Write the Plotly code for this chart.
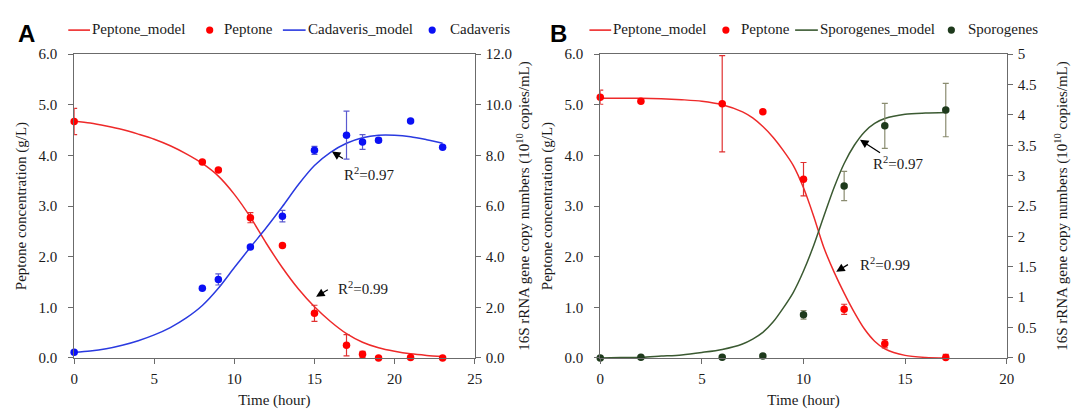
import plotly.graph_objects as go

# ---------------- Panel A: peptone vs C. cadaveris ----------------
hours_A = list(range(0, 24))
pep_model_A = [4.68, 4.64, 4.58, 4.51, 4.42, 4.32, 4.19, 4.03, 3.84, 3.59,
               3.23, 2.78, 2.26, 1.78, 1.36, 1.01, 0.72, 0.48, 0.31, 0.20,
               0.13, 0.08, 0.05, 0.03]
cad_model_A = [0.22, 0.27, 0.36, 0.50, 0.68, 0.91, 1.20, 1.58, 2.07, 2.75,
               3.57, 4.37, 5.15, 5.98, 6.85, 7.60, 8.12, 8.48, 8.70, 8.80,
               8.80, 8.74, 8.62, 8.48]

t_A = [0, 8, 9, 11, 13, 15, 17, 18, 19, 21, 23]
pep_A = [4.67, 3.87, 3.71, 2.77, 2.22, 0.88, 0.25, 0.07, 0.0, 0.01, 0.0]
pep_A_sd = [0.26, None, None, 0.10, None, 0.16, 0.21, 0.06, None, None, None]
cad_A = [0.22, 2.75, 3.10, 4.38, 5.60, 8.20, 8.80, 8.53, 8.60, 9.36, 8.32]
cad_A_sd = [None, None, 0.22, None, 0.23, 0.16, 0.95, 0.29, 0.08, None, None]

# ---------------- Panel B: peptone vs C. sporogenes ----------------
hours_B = [0, 1, 2, 3, 4, 5, 6, 7, 7.5, 8, 8.5, 9, 9.5, 10, 10.5, 11, 11.5,
           12, 12.5, 13, 13.5, 14, 15, 16, 17]
pep_model_B = [5.13, 5.13, 5.13, 5.12, 5.10, 5.07, 5.00, 4.86, 4.74, 4.57,
               4.36, 4.10, 3.80, 3.36, 2.80, 2.18, 1.70, 1.28, 0.90, 0.57,
               0.33, 0.18, 0.05, 0.01, 0.00]
spo_model_B = [0.00, 0.005, 0.01, 0.03, 0.05, 0.09, 0.14, 0.23, 0.31, 0.42,
               0.59, 0.82, 1.08, 1.43, 1.85, 2.33, 2.80, 3.20, 3.50, 3.72,
               3.86, 3.94, 4.01, 4.03, 4.04]

t_B = [0, 2, 6, 8, 10, 12, 14, 17]
pep_B = [5.15, 5.07, 5.02, 4.86, 3.53, 0.96, 0.28, 0.01]
pep_B_sd = [0.14, None, 0.95, None, 0.33, 0.10, 0.08, 0.06]
spo_B = [0.0, 0.01, 0.01, 0.03, 0.71, 2.83, 3.82, 4.08]
spo_B_sd = [None, None, None, None, 0.07, 0.24, 0.37, 0.44]

SERIF = "Liberation Serif"
TXT = "#1a1a1a"
AXC = "#6b6b6b"
W, H = 1080, 413

RED_L, RED_P, RED_E = "#ee2a2a", "#ff0000", "#e03030"
BLU_L, BLU_P, BLU_E = "#2a3ae0", "#0a10f5", "#5a5ad0"
GRN_L, GRN_P, GRN_E = "#3b5a32", "#1e3a1c", "#8a8c70"

fig = go.Figure()


def model(x, y, name, color, xa, ya):
    return go.Scatter(x=x, y=y, name=name, mode="lines", showlegend=False,
                      line=dict(color=color, width=1.5, shape="spline", smoothing=0.8),
                      xaxis=xa, yaxis=ya, cliponaxis=False)


def points(x, y, sd, name, color, ecolor, xa, ya):
    return go.Scatter(x=x, y=y, name=name, mode="markers", showlegend=False,
                      marker=dict(color=color, size=7.5),
                      error_y=dict(type="data", array=sd, visible=True,
                                   color=ecolor, thickness=1.2, width=3),
                      xaxis=xa, yaxis=ya, cliponaxis=False)


fig.add_trace(model(hours_A, pep_model_A, "Peptone_model", RED_L, "x", "y"))
fig.add_trace(points(t_A, pep_A, pep_A_sd, "Peptone", RED_P, RED_E, "x", "y"))
fig.add_trace(model(hours_A, cad_model_A, "Cadaveris_model", BLU_L, "x", "y2"))
fig.add_trace(points(t_A, cad_A, cad_A_sd, "Cadaveris", BLU_P, BLU_E, "x", "y2"))

fig.add_trace(model(hours_B, pep_model_B, "Peptone_model", RED_L, "x2", "y3"))
fig.add_trace(points(t_B, pep_B, pep_B_sd, "Peptone", RED_P, RED_E, "x2", "y3"))
fig.add_trace(model(hours_B, spo_model_B, "Sporogenes_model", GRN_L, "x2", "y4"))
fig.add_trace(points(t_B, spo_B, spo_B_sd, "Sporogenes", GRN_P, GRN_E, "x2", "y4"))

Y_DOM = [0.1186, 0.8838]
tickfont = dict(family=SERIF, size=15, color=TXT)
titlefont = dict(family=SERIF, size=15, color=TXT)
common = dict(showline=True, linecolor=AXC, linewidth=1, ticks="outside",
              ticklen=5, tickcolor=AXC, tickfont=tickfont, showgrid=False,
              zeroline=False, fixedrange=True)

right_title = "16S rRNA gene copy numbers (10<sup>10</sup> copies/mL)"

fig.update_layout(
    width=W, height=H,
    margin=dict(l=0, r=0, t=0, b=0),
    paper_bgcolor="white", plot_bgcolor="white",
    font=dict(family=SERIF, size=15, color=TXT),
    showlegend=False,
    xaxis=dict(domain=[0.0657, 0.4407], range=[0, 25], dtick=5, anchor="y",
               mirror=True, ticklabelstandoff=2,
               title=dict(text="Time (hour)", font=titlefont, standoff=8),
               **common),
    yaxis=dict(domain=Y_DOM, range=[0, 6], dtick=1, tickformat=".1f", anchor="x",
               ticklabelstandoff=8,
               title=dict(text="Peptone concentration (g/L)", font=titlefont, standoff=8),
               **common),
    yaxis2=dict(range=[0, 12], dtick=2, tickformat=".1f", overlaying="y",
                side="right", anchor="x", ticklabelstandoff=2,
                title=dict(text=right_title, font=titlefont, standoff=7),
                **common),
    xaxis2=dict(domain=[0.5583, 0.9389], range=[0, 20], dtick=5, anchor="y3",
                mirror=True, ticklabelstandoff=2,
                title=dict(text="Time (hour)", font=titlefont, standoff=8),
                **common),
    yaxis3=dict(domain=Y_DOM, range=[0, 6], dtick=1, tickformat=".1f", anchor="x2",
                ticklabelstandoff=8,
                title=dict(text="Peptone concentration (g/L)", font=titlefont, standoff=8),
                **common),
    yaxis4=dict(range=[0, 5], dtick=0.5, overlaying="y3", side="right", anchor="x2",
                ticklabelstandoff=2,
                title=dict(text=right_title, font=titlefont, standoff=21),
                **common),
)

annotations = [
    dict(text="<b>A</b>", x=0.0111, y=0.935, xref="paper", yref="paper",
         xanchor="left", yanchor="middle", showarrow=False,
         font=dict(family="Liberation Sans", size=24, color="black")),
    dict(text="<b>B</b>", x=0.509, y=0.935, xref="paper", yref="paper",
         xanchor="left", yanchor="middle", showarrow=False,
         font=dict(family="Liberation Sans", size=24, color="black")),
]
shapes = []

# Legend rows drawn above each panel: (kind, colour, start px, text px, label)
LEG_Y = 1 - 23 / H
LEG_TXT_Y = 1 - 21.8 / H
legend_rows = [
    ("line", RED_L, 65, 89, "Peptone_model"),
    ("dot", RED_P, 208, 222, "Peptone"),
    ("line", BLU_L, 282, 307, "Cadaveris_model"),
    ("dot", BLU_P, 433, 451, "Cadaveris"),
    ("line", RED_L, 592, 616, "Peptone_model"),
    ("dot", RED_P, 730, 745, "Peptone"),
    ("line", GRN_L, 800, 825, "Sporogenes_model"),
    ("dot", GRN_P, 958, 975, "Sporogenes"),
]
for kind, color, sx, tx, label in legend_rows:
    if kind == "line":
        shapes.append(dict(type="line", xref="paper", yref="paper",
                           x0=sx / W, x1=(tx - 2) / W, y0=LEG_Y, y1=LEG_Y,
                           line=dict(color=color, width=1.6)))
    else:
        shapes.append(dict(type="circle", xref="paper", yref="paper",
                           xsizemode="pixel", ysizemode="pixel",
                           xanchor=sx / W, yanchor=LEG_Y,
                           x0=-3.6, x1=3.6, y0=-3.6, y1=3.6,
                           fillcolor=color, line=dict(color=color, width=0)))
    annotations.append(dict(text=label, x=(tx - 2) / W, y=LEG_TXT_Y, xref="paper",
                            yref="paper", xanchor="left", yanchor="middle",
                            showarrow=False,
                            font=dict(family=SERIF, size=15, color=TXT)))

# R^2 labels with pointer arrows, placed in data units of each axis pair
r2_labels = [
    # (x-ref, y-ref, text x, text y, tail x, tail y, head x, head y, text)
    ("x", "y2", 18.4, 7.28, 16.87, 7.84, 16.09, 8.15, "R<sup>2</sup>=0.97"),
    ("x", "y", 18.0, 1.38, 15.93, 1.365, 15.1, 1.21, "R<sup>2</sup>=0.99"),
    ("x2", "y4", 14.65, 3.21, 13.84, 3.36, 12.78, 3.59, "R<sup>2</sup>=0.97"),
    ("x2", "y4", 14.0, 1.54, 12.26, 1.55, 11.61, 1.42, "R<sup>2</sup>=0.99"),
]
for xr, yr, tx, ty, ax, ay, hx, hy, label in r2_labels:
    annotations.append(dict(text=label, x=tx, y=ty, xref=xr, yref=yr,
                            showarrow=False, font=dict(family=SERIF, size=15, color=TXT)))
    annotations.append(dict(text="", x=hx, y=hy, ax=ax, ay=ay, xref=xr, yref=yr,
                            axref=xr, ayref=yr, showarrow=True, arrowhead=2,
                            arrowsize=1.3, arrowwidth=1.3, arrowcolor="black"))

fig.update_layout(annotations=annotations, shapes=shapes)

fig.write_html("out.html")
